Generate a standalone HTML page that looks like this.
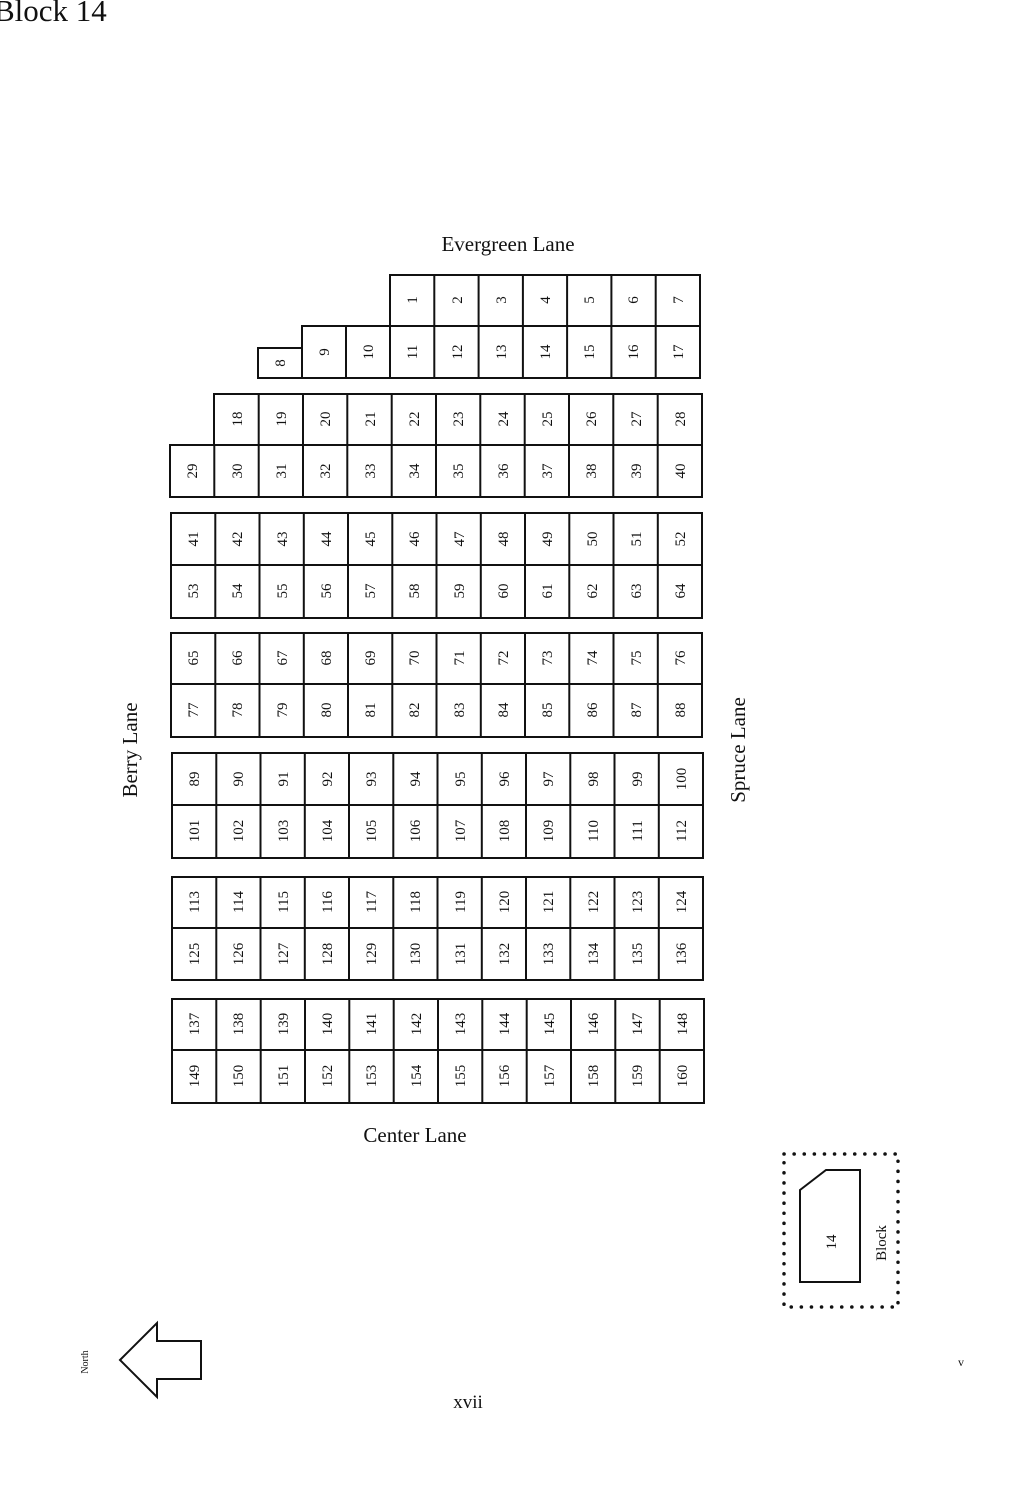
<!DOCTYPE html>
<html><head><meta charset="utf-8"><style>
html,body{margin:0;padding:0;background:#fff;}
svg{display:block}
text{font-family:"Liberation Serif",serif;fill:#111}
.n text{font-size:15px}
rect{fill:none;stroke:#111;stroke-width:2}
</style></head><body>
<svg width="1034" height="1496" viewBox="0 0 1034 1496" xmlns="http://www.w3.org/2000/svg">
<text x="-6" y="21" style="font-family:'Liberation Serif',serif;font-size:31px">Block 14</text>
<text x="508" y="251" font-size="21" text-anchor="middle">Evergreen Lane</text>
<text x="415" y="1142" font-size="21" text-anchor="middle">Center Lane</text>
<text transform="translate(137,750) rotate(-90)" font-size="21" text-anchor="middle">Berry Lane</text>
<text transform="translate(745,750) rotate(-90)" font-size="21" text-anchor="middle">Spruce Lane</text>
<text x="468" y="1408" font-size="19" text-anchor="middle">xvii</text>

<g>
<rect x="390" y="275" width="310" height="51"/>
<rect x="302" y="326" width="398" height="52"/>
<rect x="258" y="348" width="44" height="30"/>
<path d="M434.3 275V378M478.6 275V378M522.9 275V378M567.1 275V378M611.4 275V378M655.7 275V378M346 326V378M390 326V378" stroke="#111" stroke-width="2" fill="none"/>
</g>
<g>
<rect x="214" y="394" width="488" height="51"/><rect x="170" y="445" width="532" height="52"/>
<path d="M214.3 445V497M258.7 394V497M303 394V497M347.3 394V497M391.7 394V497M436 394V497M480.3 394V497M524.7 394V497M569 394V497M613.3 394V497M657.7 394V497" stroke="#111" stroke-width="2"/>
</g>
<g>
<rect x="171" y="513" width="531" height="105"/><path d="M171 565H702M215.3 513V618M259.5 513V618M303.8 513V618M348 513V618M392.3 513V618M436.5 513V618M480.8 513V618M525 513V618M569.3 513V618M613.5 513V618M657.8 513V618" stroke="#111" stroke-width="2"/>
</g>
<g>
<rect x="171" y="633" width="531" height="104"/><path d="M171 684H702M215.3 633V737M259.5 633V737M303.8 633V737M348 633V737M392.3 633V737M436.5 633V737M480.8 633V737M525 633V737M569.3 633V737M613.5 633V737M657.8 633V737" stroke="#111" stroke-width="2"/>
</g>
<g>
<rect x="172" y="753" width="531" height="105"/><path d="M172 805H703M216.3 753V858M260.5 753V858M304.8 753V858M349 753V858M393.3 753V858M437.5 753V858M481.8 753V858M526 753V858M570.3 753V858M614.5 753V858M658.8 753V858" stroke="#111" stroke-width="2"/>
</g>
<g>
<rect x="172" y="877" width="531" height="103"/><path d="M172 928H703M216.3 877V980M260.5 877V980M304.8 877V980M349 877V980M393.3 877V980M437.5 877V980M481.8 877V980M526 877V980M570.3 877V980M614.5 877V980M658.8 877V980" stroke="#111" stroke-width="2"/>
</g>
<g>
<rect x="172" y="999" width="532" height="104"/><path d="M172 1050H704M216.3 999V1103M260.7 999V1103M305 999V1103M349.3 999V1103M393.7 999V1103M438 999V1103M482.3 999V1103M526.7 999V1103M571 999V1103M615.3 999V1103M659.7 999V1103" stroke="#111" stroke-width="2"/>
</g>

<g class="n" text-anchor="middle">
<text transform="translate(417,300) rotate(-90)">1</text>
<text transform="translate(462,300) rotate(-90)">2</text>
<text transform="translate(506,300) rotate(-90)">3</text>
<text transform="translate(550,300) rotate(-90)">4</text>
<text transform="translate(594,300) rotate(-90)">5</text>
<text transform="translate(638,300) rotate(-90)">6</text>
<text transform="translate(683,300) rotate(-90)">7</text>
<text transform="translate(285,363) rotate(-90)">8</text>
<text transform="translate(329,352) rotate(-90)">9</text>
<text transform="translate(373,352) rotate(-90)">10</text>
<text transform="translate(417,352) rotate(-90)">11</text>
<text transform="translate(462,352) rotate(-90)">12</text>
<text transform="translate(506,352) rotate(-90)">13</text>
<text transform="translate(550,352) rotate(-90)">14</text>
<text transform="translate(594,352) rotate(-90)">15</text>
<text transform="translate(638,352) rotate(-90)">16</text>
<text transform="translate(683,352) rotate(-90)">17</text>
<text transform="translate(242,419) rotate(-90)">18</text>
<text transform="translate(286,419) rotate(-90)">19</text>
<text transform="translate(330,419) rotate(-90)">20</text>
<text transform="translate(375,419) rotate(-90)">21</text>
<text transform="translate(419,419) rotate(-90)">22</text>
<text transform="translate(463,419) rotate(-90)">23</text>
<text transform="translate(508,419) rotate(-90)">24</text>
<text transform="translate(552,419) rotate(-90)">25</text>
<text transform="translate(596,419) rotate(-90)">26</text>
<text transform="translate(641,419) rotate(-90)">27</text>
<text transform="translate(685,419) rotate(-90)">28</text>
<text transform="translate(197,471) rotate(-90)">29</text>
<text transform="translate(242,471) rotate(-90)">30</text>
<text transform="translate(286,471) rotate(-90)">31</text>
<text transform="translate(330,471) rotate(-90)">32</text>
<text transform="translate(375,471) rotate(-90)">33</text>
<text transform="translate(419,471) rotate(-90)">34</text>
<text transform="translate(463,471) rotate(-90)">35</text>
<text transform="translate(508,471) rotate(-90)">36</text>
<text transform="translate(552,471) rotate(-90)">37</text>
<text transform="translate(596,471) rotate(-90)">38</text>
<text transform="translate(641,471) rotate(-90)">39</text>
<text transform="translate(685,471) rotate(-90)">40</text>
<text transform="translate(198,539) rotate(-90)">41</text>
<text transform="translate(242,539) rotate(-90)">42</text>
<text transform="translate(287,539) rotate(-90)">43</text>
<text transform="translate(331,539) rotate(-90)">44</text>
<text transform="translate(375,539) rotate(-90)">45</text>
<text transform="translate(419,539) rotate(-90)">46</text>
<text transform="translate(464,539) rotate(-90)">47</text>
<text transform="translate(508,539) rotate(-90)">48</text>
<text transform="translate(552,539) rotate(-90)">49</text>
<text transform="translate(597,539) rotate(-90)">50</text>
<text transform="translate(641,539) rotate(-90)">51</text>
<text transform="translate(685,539) rotate(-90)">52</text>
<text transform="translate(198,591) rotate(-90)">53</text>
<text transform="translate(242,591) rotate(-90)">54</text>
<text transform="translate(287,591) rotate(-90)">55</text>
<text transform="translate(331,591) rotate(-90)">56</text>
<text transform="translate(375,591) rotate(-90)">57</text>
<text transform="translate(419,591) rotate(-90)">58</text>
<text transform="translate(464,591) rotate(-90)">59</text>
<text transform="translate(508,591) rotate(-90)">60</text>
<text transform="translate(552,591) rotate(-90)">61</text>
<text transform="translate(597,591) rotate(-90)">62</text>
<text transform="translate(641,591) rotate(-90)">63</text>
<text transform="translate(685,591) rotate(-90)">64</text>
<text transform="translate(198,658) rotate(-90)">65</text>
<text transform="translate(242,658) rotate(-90)">66</text>
<text transform="translate(287,658) rotate(-90)">67</text>
<text transform="translate(331,658) rotate(-90)">68</text>
<text transform="translate(375,658) rotate(-90)">69</text>
<text transform="translate(419,658) rotate(-90)">70</text>
<text transform="translate(464,658) rotate(-90)">71</text>
<text transform="translate(508,658) rotate(-90)">72</text>
<text transform="translate(552,658) rotate(-90)">73</text>
<text transform="translate(597,658) rotate(-90)">74</text>
<text transform="translate(641,658) rotate(-90)">75</text>
<text transform="translate(685,658) rotate(-90)">76</text>
<text transform="translate(198,710) rotate(-90)">77</text>
<text transform="translate(242,710) rotate(-90)">78</text>
<text transform="translate(287,710) rotate(-90)">79</text>
<text transform="translate(331,710) rotate(-90)">80</text>
<text transform="translate(375,710) rotate(-90)">81</text>
<text transform="translate(419,710) rotate(-90)">82</text>
<text transform="translate(464,710) rotate(-90)">83</text>
<text transform="translate(508,710) rotate(-90)">84</text>
<text transform="translate(552,710) rotate(-90)">85</text>
<text transform="translate(597,710) rotate(-90)">86</text>
<text transform="translate(641,710) rotate(-90)">87</text>
<text transform="translate(685,710) rotate(-90)">88</text>
<text transform="translate(199,779) rotate(-90)">89</text>
<text transform="translate(243,779) rotate(-90)">90</text>
<text transform="translate(288,779) rotate(-90)">91</text>
<text transform="translate(332,779) rotate(-90)">92</text>
<text transform="translate(376,779) rotate(-90)">93</text>
<text transform="translate(420,779) rotate(-90)">94</text>
<text transform="translate(465,779) rotate(-90)">95</text>
<text transform="translate(509,779) rotate(-90)">96</text>
<text transform="translate(553,779) rotate(-90)">97</text>
<text transform="translate(598,779) rotate(-90)">98</text>
<text transform="translate(642,779) rotate(-90)">99</text>
<text transform="translate(686,779) rotate(-90)">100</text>
<text transform="translate(199,831) rotate(-90)">101</text>
<text transform="translate(243,831) rotate(-90)">102</text>
<text transform="translate(288,831) rotate(-90)">103</text>
<text transform="translate(332,831) rotate(-90)">104</text>
<text transform="translate(376,831) rotate(-90)">105</text>
<text transform="translate(420,831) rotate(-90)">106</text>
<text transform="translate(465,831) rotate(-90)">107</text>
<text transform="translate(509,831) rotate(-90)">108</text>
<text transform="translate(553,831) rotate(-90)">109</text>
<text transform="translate(598,831) rotate(-90)">110</text>
<text transform="translate(642,831) rotate(-90)">111</text>
<text transform="translate(686,831) rotate(-90)">112</text>
<text transform="translate(199,902) rotate(-90)">113</text>
<text transform="translate(243,902) rotate(-90)">114</text>
<text transform="translate(288,902) rotate(-90)">115</text>
<text transform="translate(332,902) rotate(-90)">116</text>
<text transform="translate(376,902) rotate(-90)">117</text>
<text transform="translate(420,902) rotate(-90)">118</text>
<text transform="translate(465,902) rotate(-90)">119</text>
<text transform="translate(509,902) rotate(-90)">120</text>
<text transform="translate(553,902) rotate(-90)">121</text>
<text transform="translate(598,902) rotate(-90)">122</text>
<text transform="translate(642,902) rotate(-90)">123</text>
<text transform="translate(686,902) rotate(-90)">124</text>
<text transform="translate(199,954) rotate(-90)">125</text>
<text transform="translate(243,954) rotate(-90)">126</text>
<text transform="translate(288,954) rotate(-90)">127</text>
<text transform="translate(332,954) rotate(-90)">128</text>
<text transform="translate(376,954) rotate(-90)">129</text>
<text transform="translate(420,954) rotate(-90)">130</text>
<text transform="translate(465,954) rotate(-90)">131</text>
<text transform="translate(509,954) rotate(-90)">132</text>
<text transform="translate(553,954) rotate(-90)">133</text>
<text transform="translate(598,954) rotate(-90)">134</text>
<text transform="translate(642,954) rotate(-90)">135</text>
<text transform="translate(686,954) rotate(-90)">136</text>
<text transform="translate(199,1024) rotate(-90)">137</text>
<text transform="translate(243,1024) rotate(-90)">138</text>
<text transform="translate(288,1024) rotate(-90)">139</text>
<text transform="translate(332,1024) rotate(-90)">140</text>
<text transform="translate(376,1024) rotate(-90)">141</text>
<text transform="translate(421,1024) rotate(-90)">142</text>
<text transform="translate(465,1024) rotate(-90)">143</text>
<text transform="translate(509,1024) rotate(-90)">144</text>
<text transform="translate(554,1024) rotate(-90)">145</text>
<text transform="translate(598,1024) rotate(-90)">146</text>
<text transform="translate(642,1024) rotate(-90)">147</text>
<text transform="translate(687,1024) rotate(-90)">148</text>
<text transform="translate(199,1076) rotate(-90)">149</text>
<text transform="translate(243,1076) rotate(-90)">150</text>
<text transform="translate(288,1076) rotate(-90)">151</text>
<text transform="translate(332,1076) rotate(-90)">152</text>
<text transform="translate(376,1076) rotate(-90)">153</text>
<text transform="translate(421,1076) rotate(-90)">154</text>
<text transform="translate(465,1076) rotate(-90)">155</text>
<text transform="translate(509,1076) rotate(-90)">156</text>
<text transform="translate(554,1076) rotate(-90)">157</text>
<text transform="translate(598,1076) rotate(-90)">158</text>
<text transform="translate(642,1076) rotate(-90)">159</text>
<text transform="translate(687,1076) rotate(-90)">160</text>
</g>

<rect x="784" y="1154" width="114" height="153" style="stroke-dasharray:0.1 10;stroke-width:3.5;stroke-linecap:round"/>
<path d="M800 1190L826 1170H860V1282H800Z" fill="none" stroke="#111" stroke-width="2"/>
<text transform="translate(836,1242) rotate(-90)" font-size="15" text-anchor="middle">14</text>
<text transform="translate(886,1243) rotate(-90)" font-size="15" text-anchor="middle">Block</text>

<path d="M120 1360L157 1323V1341H201V1379H157V1397Z" fill="none" stroke="#111" stroke-width="2"/>
<text transform="translate(88,1362) rotate(-90)" font-size="10" text-anchor="middle">North</text>
<text x="958" y="1366" font-size="12">v</text>
</svg>
</body></html>
